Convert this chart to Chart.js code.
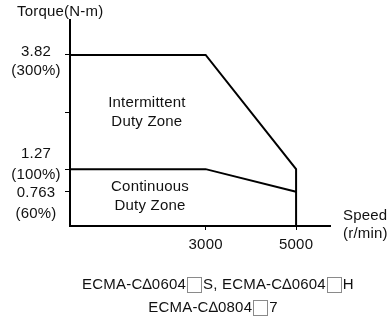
<!DOCTYPE html>
<html>
<head>
<meta charset="utf-8">
<script src="https://cdn.jsdelivr.net/npm/chart.js@4"></script>
<style>
  html, body { margin: 0; padding: 0; background: #fff; }
  #wrap { width: 389px; height: 331px; position: relative; }
</style>
</head>
<body>
<div id="wrap"><canvas id="torqueChart"></canvas></div>
<script>
'use strict';

// ─── Data ─────────────────────────────────────────────────────────────────────
// Speed (r/min) break points of the torque envelope
const intermittentSpeed  = [0, 3000, 5000, 5000];
const intermittentTorque = [3.82, 3.82, 1.27, 0];
const continuousSpeed    = [0, 3000, 5000];
const continuousTorque   = [1.27, 1.27, 0.763];

// Axis ticks and their labels
const torqueTicks  = [3.82, 2.54, 1.27, 0.763];
const torqueLabels = [['3.82', '(300%)'], [], ['1.27', '(100%)'], ['0.763', '(60%)']];
const speedTicks   = [3000, 5000];
const speedLabels  = ['3000', '5000'];

// Zone names and model list
const zoneIntermittent = ['Intermittent', 'Duty Zone'];
const zoneContinuous   = ['Continuous', 'Duty Zone'];
const modelLines = [
  ['ECMA-C\u22060604', null, 'S, ECMA-C\u22060604', null, 'H'],
  ['ECMA-C\u22060804', null, '7'],
];

const FONT = '15px "Liberation Sans", Arial, sans-serif';
const BOX_W = 15, BOX_H = 16;

const toPoints = (xs, ys) => xs.map((x, i) => ({ x, y: ys[i] }));

// ─── Text drawing helpers ─────────────────────────────────────────────────────
function partWidth(ctx, p) {
  return p === null ? BOX_W + 2 : ctx.measureText(p).width;
}

// Draws a line of text where null entries stand for an empty character box
function drawModelLine(ctx, parts, cx, cy) {
  const total = parts.reduce((s, p) => s + partWidth(ctx, p), 0);
  let x = cx - total / 2;
  parts.forEach((p) => {
    if (p === null) {
      ctx.save();
      ctx.strokeStyle = '#8a8a8a';
      ctx.lineWidth = 1;
      ctx.strokeRect(Math.round(x + 1) + 0.5, Math.round(cy - BOX_H / 2) + 0.5, BOX_W - 1, BOX_H - 1);
      ctx.restore();
    } else {
      ctx.fillText(p, x, cy);
    }
    x += partWidth(ctx, p);
  });
}

const labelPlugin = {
  id: 'labels',
  afterDraw(chart) {
    const { ctx, scales: { x, y } } = chart;
    ctx.save();
    ctx.font = FONT;
    ctx.letterSpacing = '0.2px';
    ctx.fillStyle = '#111';
    ctx.textBaseline = 'middle';

    // Axis names
    ctx.textAlign = 'left';
    ctx.fillText('Torque(N-m)', 17, 12);
    ctx.fillText('Speed', x.right + 13, y.getPixelForValue(0) - 10);
    ctx.fillText('(r/min)', x.right + 13, y.getPixelForValue(0) + 8);

    // Torque tick labels (two lines each, nudged apart where crowded)
    const firstLineShift = [-3, 0, -15, 1];
    ctx.textAlign = 'center';
    torqueTicks.forEach((v, i) => {
      const py = y.getPixelForValue(v) + firstLineShift[i];
      torqueLabels[i].forEach((line, j) => ctx.fillText(line, 36, py + j * (i === 0 ? 19 : 21)));
    });

    // Speed tick labels
    speedTicks.forEach((v, i) => {
      ctx.fillText(speedLabels[i], x.getPixelForValue(v), y.getPixelForValue(0) + 19);
    });

    // Zone names
    zoneIntermittent.forEach((t, j) => ctx.fillText(t, x.getPixelForValue(1700), y.getPixelForValue(2.75) + j * 19));
    zoneContinuous.forEach((t, j) => ctx.fillText(t, x.getPixelForValue(1770), y.getPixelForValue(0.88) + j * 19));

    // Model list
    ctx.textAlign = 'left';
    drawModelLine(ctx, modelLines[0], 218, 285);
    drawModelLine(ctx, modelLines[1], 213, 308);
    ctx.restore();
  },
};

// ─── Chart ────────────────────────────────────────────────────────────────────
const lineStyle = {
  showLine: true, borderColor: '#000', borderWidth: 2,
  pointRadius: 0, fill: false, tension: 0,
};

new Chart(document.getElementById('torqueChart'), {
  type: 'scatter',
  data: {
    datasets: [
      { ...lineStyle, label: 'Intermittent', data: toPoints(intermittentSpeed, intermittentTorque) },
      { ...lineStyle, label: 'Continuous',   data: toPoints(continuousSpeed, continuousTorque) },
    ],
  },
  options: {
    responsive: true,
    maintainAspectRatio: false,
    animation: false,
    layout: { padding: { left: 65, top: 20, right: 59, bottom: 101 } },
    plugins: { legend: { display: false }, tooltip: { enabled: false } },
    scales: {
      x: {
        type: 'linear', min: 0, max: 5750,
        afterBuildTicks: (s) => { s.ticks = speedTicks.map((value) => ({ value })); },
        afterFit: (s) => { s.height = 4; },
        ticks: { display: false },
        grid: { drawOnChartArea: false, drawTicks: true, tickLength: 4, color: '#000', lineWidth: 1 },
        border: { display: true, color: '#000', width: 2 },
      },
      y: {
        type: 'linear', min: 0, max: 4.6,
        afterBuildTicks: (s) => { s.ticks = torqueTicks.map((value) => ({ value })); },
        afterFit: (s) => { s.width = 5; },
        ticks: { display: false },
        grid: { drawOnChartArea: false, drawTicks: true, tickLength: 5, color: '#000', lineWidth: 1 },
        border: { display: true, color: '#000', width: 2 },
      },
    },
  },
  plugins: [labelPlugin],
});
</script>
</body>
</html>
